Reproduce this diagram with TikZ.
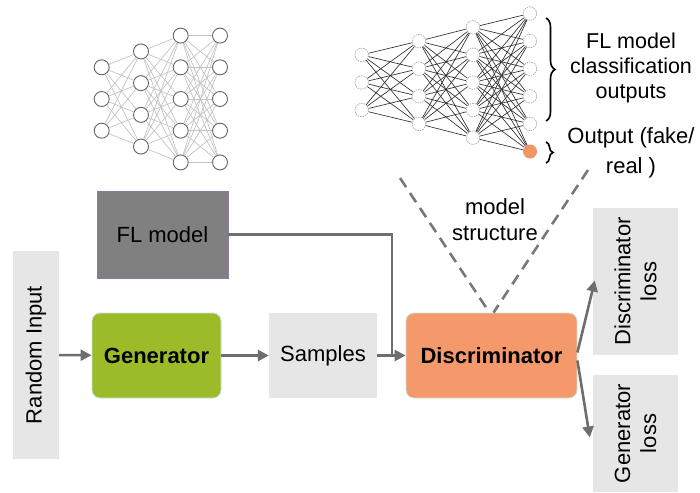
\documentclass[tikz,border=0pt]{standalone}
\usepackage{fontspec}
\setmainfont{Liberation Sans}
\usetikzlibrary{arrows.meta,decorations.pathreplacing,calc}
\definecolor{arrowgray}{RGB}{110,110,110}
\definecolor{dashgray}{RGB}{120,120,120}
\definecolor{flgray}{RGB}{128,128,128}
\definecolor{flborder}{RGB}{140,120,160}
\definecolor{lightbox}{RGB}{230,230,230}
\definecolor{gengreen}{RGB}{155,188,40}
\definecolor{discorange}{RGB}{243,153,107}
\definecolor{softedge}{RGB}{200,228,222}
\definecolor{lnetline}{RGB}{195,195,195}
\definecolor{lnetcirc}{RGB}{100,100,100}
\definecolor{rnetline}{RGB}{45,45,45}
\definecolor{rnetcirc}{RGB}{170,170,170}
\definecolor{outorange}{RGB}{240,150,100}
\tikzset{
  txt/.style={font=\fontsize{22}{26}\selectfont, align=center, text=black},
  plainbox/.style={txt, inner sep=0pt, fill=lightbox},
  roundbox/.style={txt, inner sep=0pt, rounded corners=8pt, draw=softedge, line width=0.8pt, font=\fontsize{22}{26}\selectfont\bfseries},
  flow/.style={draw=arrowgray, line width=2.6pt, -{Triangle[length=11pt,width=11pt]}},
  flowline/.style={draw=arrowgray, line width=2.6pt},
  vdash/.style={draw=dashgray, line width=2.6pt, dash pattern=on 11pt off 7pt},
  lnode/.style={circle, draw=lnetcirc, fill=white, line width=0.9pt, minimum size=15pt, inner sep=0pt},
  ledge/.style={draw=lnetline, line width=0.7pt},
  rnode/.style={circle, draw=rnetcirc, dash pattern=on 1.5pt off 1pt, fill=white, line width=0.7pt, minimum size=13.5pt, inner sep=0pt},
  onode/.style={circle, fill=outorange, minimum size=14pt, inner sep=0pt},
  redge/.style={draw=rnetline, line width=0.65pt},
  bracebig/.style={draw=black, line width=1.6pt, decorate, decoration={brace, amplitude=9pt}},
  toptxt/.style={font=\fontsize{21.5}{25}\selectfont, align=center, text=black}
}
\begin{document}
\begin{tikzpicture}[x=1pt,y=-1pt]
\useasboundingbox (0,0) rectangle (700,492);

% ---------- left network ----------
\foreach \n/\x/\L in {3/101.7/1,4/141/2,5/180.7/3,5/220/4}{
  \foreach \k in {1,...,\n}{
    \node[lnode] (a\L-\k) at (\x,{99+(\k-(\n+1)/2)*31.7}) {};
  }
}
\foreach \i in {1,...,3}{\foreach \j in {1,...,4}{\draw[ledge] (a1-\i) -- (a2-\j);}}
\foreach \i in {1,...,4}{\foreach \j in {1,...,5}{\draw[ledge] (a2-\i) -- (a3-\j);}}
\foreach \i in {1,...,5}{\foreach \j in {1,...,5}{\draw[ledge] (a3-\i) -- (a4-\j);}}

% ---------- right network ----------
\foreach \n/\x/\L in {3/361.7/1,4/419/2,5/473/3}{
  \foreach \k in {1,...,\n}{
    \node[rnode] (b\L-\k) at (\x,{82.5+(\k-(\n+1)/2)*27.6}) {};
  }
}
\foreach \k in {1,...,5}{
  \node[rnode] (b4-\k) at (530,{82.5+(\k-3.5)*27.6}) {};
}
\node[onode] (b4-6) at (530,{82.5+2.5*27.6}) {};
\foreach \i in {1,...,3}{\foreach \j in {1,...,4}{\draw[redge] (b1-\i) -- (b2-\j);}}
\foreach \i in {1,...,4}{\foreach \j in {1,...,5}{\draw[redge] (b2-\i) -- (b3-\j);}}
\foreach \i in {1,...,5}{\foreach \j in {1,...,6}{\draw[redge] (b3-\i) -- (b4-\j);}}

% braces and labels
\coordinate (bt1) at (546,18);
\coordinate (bt2) at (546,121);
\coordinate (bs1) at (546,142);
\coordinate (bs2) at (546,163);
\draw[bracebig] (bt1) -- (bt2);
\draw[bracebig, decoration={brace, amplitude=7pt}] (bs1) -- (bs2);
\node[toptxt] (fltxt) at (631,68) {FL model\\classification\\outputs};
\node[toptxt, font=\fontsize{22}{30}\selectfont] (outtxt) at (631,153) {Output (fake/\\real )};

% ---------- bottom flow ----------
\node[plainbox, minimum width=208pt, minimum height=46pt, rotate=90] (rin) at (36,355) {Random Input};
\node[txt, inner sep=0pt, fill=flgray, draw=flborder, line width=0.6pt, minimum width=131pt, minimum height=87pt] (fl) at (162.5,234.5) {FL model};
\node[roundbox, fill=gengreen, minimum width=129pt, minimum height=85pt] (gen) at (156.5,355.5) {Generator};
\node[plainbox, minimum width=108pt, minimum height=85pt] (samp) at (323,355.5) {Samples};
\node[roundbox, fill=discorange, minimum width=171pt, minimum height=85pt] (disc) at (491.5,355.5) {Discriminator};
\node[plainbox, minimum width=147pt, minimum height=85pt, rotate=90] (dloss) at (635.5,281.5) {Discriminator\\loss};
\node[plainbox, minimum width=117pt, minimum height=85pt, rotate=90] (gloss) at (635.5,433.5) {Generator\\loss};

\draw[flow] (rin) -- (gen);
\draw[flow] (gen) -- (samp);
\draw[flow] (samp) -- (disc);
\coordinate (jn) at (392,355.5);
\draw[flowline] (fl.east) -| (jn);
\draw[flow] ($(disc.east)+(0,-3)$) -- ($(dloss.north)+(2,-1)$);
\draw[flow] ($(disc.east)+(0,5)$) -- ($(gloss.north)+(-3,4)$);

% dashed V
\coordinate (vl) at (400,178);
\coordinate (vr) at (588,170);
\draw[vdash] (vl) -- ($(disc.north)+(-2,0)$);
\draw[vdash] (vr) -- ($(disc.north)+(2,0)$);
\node[txt] (mstruct) at (495,220) {model\\structure};
\end{tikzpicture}
\end{document}
